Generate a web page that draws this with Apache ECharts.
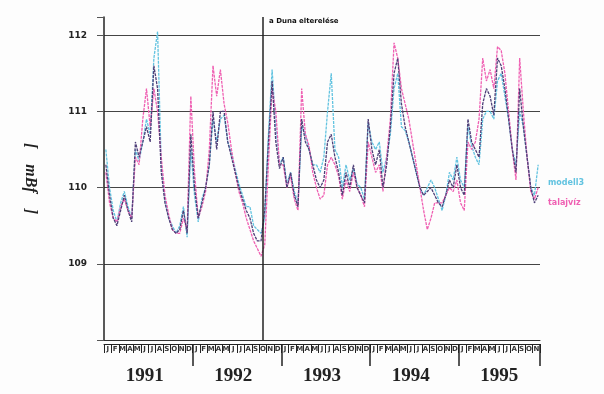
<!DOCTYPE html>
<html><head><meta charset="utf-8">
<script src="https://cdn.jsdelivr.net/npm/echarts@6/dist/echarts.min.js"></script>
<style>html,body{margin:0;padding:0;background:#fdfdfd}#c{width:604px;height:394px}</style>
</head><body><div id="c"></div>
<script>
const years = [1991, 1992, 1993, 1994, 1995];
const monthInitials = ['J','F','M','A','M','J','J','A','S','O','N','D'];
const monthCount = 59;            // Jan 1991 .. Nov 1995
const halves = ['a', 'b'];        // two readings per month
const diversionMonth = 21.5;      // months after Jan 1991 (Oct 1992)
const diversionLabel = 'a Duna elterelése';
const yLabels = [109, 110, 111, 112];
const seriesNames = ['mért', 'modell3', 'talajvíz'];

const darkValues = [
 110.3,109.9,109.6,109.5,109.7,109.9,109.7,109.55,110.6,110.4,110.6,110.8,110.6,111.6,111.3,110.2,109.8,109.6,109.45,109.4,109.45,109.7,109.4,110.7,
 110.0,109.6,109.8,110.0,110.3,111.0,110.5,111.0,111.0,110.6,110.4,110.2,110.0,109.85,109.7,109.6,109.4,109.3,109.3,109.7,110.6,111.4,110.6,110.25,
 110.4,110.0,110.2,109.9,109.75,110.9,110.6,110.5,110.3,110.1,110.0,110.1,110.6,110.7,110.4,110.2,109.9,110.2,110.0,110.3,110.0,109.9,109.8,110.9,
 110.5,110.3,110.5,110.0,110.3,110.8,111.5,111.7,111.1,110.8,110.6,110.4,110.2,110.0,109.9,109.95,110.0,109.9,109.8,109.75,109.9,110.1,110.0,110.3,
 110.0,109.9,110.9,110.6,110.5,110.4,111.1,111.3,111.2,110.95,111.7,111.6,111.3,110.9,110.5,110.2,111.3,110.8,110.4,110.0,109.8,109.9
];
const cyanValues = [
 110.5,110.0,109.7,109.55,109.8,109.95,109.75,109.6,110.5,110.35,110.6,110.9,110.7,111.7,112.05,110.3,109.85,109.6,109.5,109.4,109.5,109.75,109.35,110.5,
 109.9,109.55,109.85,110.0,110.3,110.9,110.6,110.9,110.95,110.6,110.45,110.25,110.05,109.9,109.75,109.75,109.5,109.45,109.4,109.6,110.7,111.55,110.8,110.3,
 110.4,110.05,110.2,109.95,109.8,110.8,110.7,110.5,110.3,110.3,110.2,110.4,111.0,111.5,110.5,110.4,110.0,110.3,110.1,110.25,110.05,110.0,109.85,110.85,
 110.6,110.5,110.6,110.2,110.4,110.7,111.3,111.5,110.8,110.75,110.6,110.4,110.2,110.0,109.9,110.0,110.1,110.0,109.85,109.7,109.9,110.2,110.1,110.4,
 110.1,110.0,110.8,110.55,110.4,110.3,110.9,111.0,111.0,110.9,111.4,111.5,111.2,110.9,110.5,110.3,111.0,110.8,110.4,110.0,109.9,110.3
];
const pinkValues = [
 110.2,109.8,109.6,109.55,109.75,109.85,109.7,109.6,110.4,110.3,110.9,111.3,110.8,111.3,111.0,110.4,109.9,109.65,109.45,109.4,109.4,109.6,109.45,111.2,
 110.2,109.6,109.75,109.95,110.5,111.6,111.2,111.55,111.1,110.85,110.5,110.2,109.95,109.8,109.6,109.45,109.3,109.2,109.1,109.25,110.3,111.3,111.0,110.3,
 110.3,110.0,110.15,109.85,109.7,111.3,110.7,110.55,110.2,110.0,109.85,109.9,110.3,110.4,110.3,110.15,109.85,110.1,109.95,110.2,110.0,109.9,109.75,110.6,
 110.4,110.2,110.3,109.95,110.4,110.9,111.9,111.7,111.3,111.1,110.9,110.6,110.3,110.0,109.7,109.45,109.6,109.8,109.8,109.8,109.9,110.0,109.95,110.1,
 109.8,109.7,110.6,110.5,110.6,110.9,111.7,111.4,111.55,111.3,111.85,111.8,111.5,111.0,110.5,110.1,111.7,111.0,110.4,109.95,109.85,110.0
];

const monthCats = [];
years.forEach(y => monthInitials.forEach((m, i) => {
  if (monthCats.length < monthCount) monthCats.push(y + '-' + String(i + 1).padStart(2, '0'));
}));
const halfCats = [];
monthCats.forEach(m => halves.forEach(h => halfCats.push(m + h)));

const colDark = '#4e3f78', colCyan = '#62c3e0', colPink = '#ef5fb2';
const chart = echarts.init(document.getElementById('c'), null, {renderer: 'canvas'});

const lineSeries = (name, data, color, z) => ({
  name, type: 'line', xAxisIndex: 2, yAxisIndex: 0, data, z,
  showSymbol: false, symbol: 'none', smooth: false,
  lineStyle: {color, width: 1.3, type: [3, 1]}, itemStyle: {color}
});

chart.setOption({
  backgroundColor: '#fdfdfd',
  animation: false,
  grid: {left: 104, top: 17, width: 436, height: 323},
  legend: {
    orient: 'vertical', left: 538, top: 171, icon: 'none', itemWidth: 0, itemGap: 9,
    textStyle: {fontSize: 8, fontFamily: 'DejaVu Sans', fontWeight: 'bold'},
    data: [
      {name: seriesNames[1], textStyle: {color: colCyan}},
      {name: seriesNames[2], textStyle: {color: colPink}}
    ]
  },
  xAxis: [
    { type: 'category', data: monthCats, gridIndex: 0, position: 'bottom', offset: 4, boundaryGap: true,
      axisLine: {show: true, lineStyle: {color: '#222', width: 1}},
      axisTick: {show: true, interval: 0, length: 9, lineStyle: {color: '#222'}},
      axisLabel: {interval: 0, margin: 2, fontSize: 7, fontWeight: 'bold', fontFamily: 'DejaVu Sans', color: '#333',
        formatter: v => monthInitials[parseInt(v.slice(5), 10) - 1]},
      splitLine: {show: false} },
    { type: 'category', data: monthCats, gridIndex: 0, position: 'bottom', offset: 4, boundaryGap: true,
      axisLine: {show: false},
      axisTick: {show: true, interval: (i) => i % 12 === 0 && i > 0, length: 22, lineStyle: {color: '#222', width: 1.5}},
      axisLabel: {interval: (i) => i % 12 === 5, margin: 23, fontSize: 19, fontWeight: 'bold',
        fontFamily: 'Liberation Serif', color: '#222', formatter: v => v.slice(0, 4)},
      splitLine: {show: false} },
    { type: 'category', data: halfCats, gridIndex: 0, position: 'bottom', boundaryGap: true,
      axisLine: {show: true, lineStyle: {color: '#333', width: 1}},
      axisTick: {show: false}, axisLabel: {show: false}, splitLine: {show: false} },
    { type: 'value', min: 0, max: monthCount, gridIndex: 0, show: false }
  ],
  yAxis: [{
    type: 'value', min: 108, max: 112.24, interval: 1,
    name: '[    mBf    ]', nameLocation: 'middle', nameRotate: -90, nameGap: 66,
    nameTextStyle: {fontSize: 16, fontWeight: 'bold', fontStyle: 'italic', fontFamily: 'Liberation Serif', color: '#222'},
    axisLine: {show: true, lineStyle: {color: '#222', width: 1.5}},
    axisTick: {show: true, length: 7, lineStyle: {color: '#555'}},
    axisLabel: {margin: 17, fontSize: 9, fontWeight: 'bold', fontFamily: 'DejaVu Sans', color: '#222',
      formatter: v => yLabels.indexOf(v) >= 0 ? String(v) : ''},
    splitLine: {show: true, showMinLine: false, showMaxLine: false, lineStyle: {color: '#444', width: 1.2}}
  }],
  graphic: [{
    type: 'text', left: 269, top: 18,
    style: {text: diversionLabel, fontSize: 7, fontWeight: 'bold', fontFamily: 'DejaVu Sans', fill: '#111'}
  }],
  series: [
    lineSeries(seriesNames[1], cyanValues, colCyan, 2),
    lineSeries(seriesNames[2], pinkValues, colPink, 3),
    lineSeries(seriesNames[0], darkValues, colDark, 4),
    { type: 'line', xAxisIndex: 3, yAxisIndex: 0, data: [], silent: true,
      markLine: {symbol: 'none', silent: true, label: {show: false},
        lineStyle: {color: '#222', width: 1.5, type: 'solid'},
        data: [{xAxis: diversionMonth}]} }
  ]
});
</script>
</body></html>
